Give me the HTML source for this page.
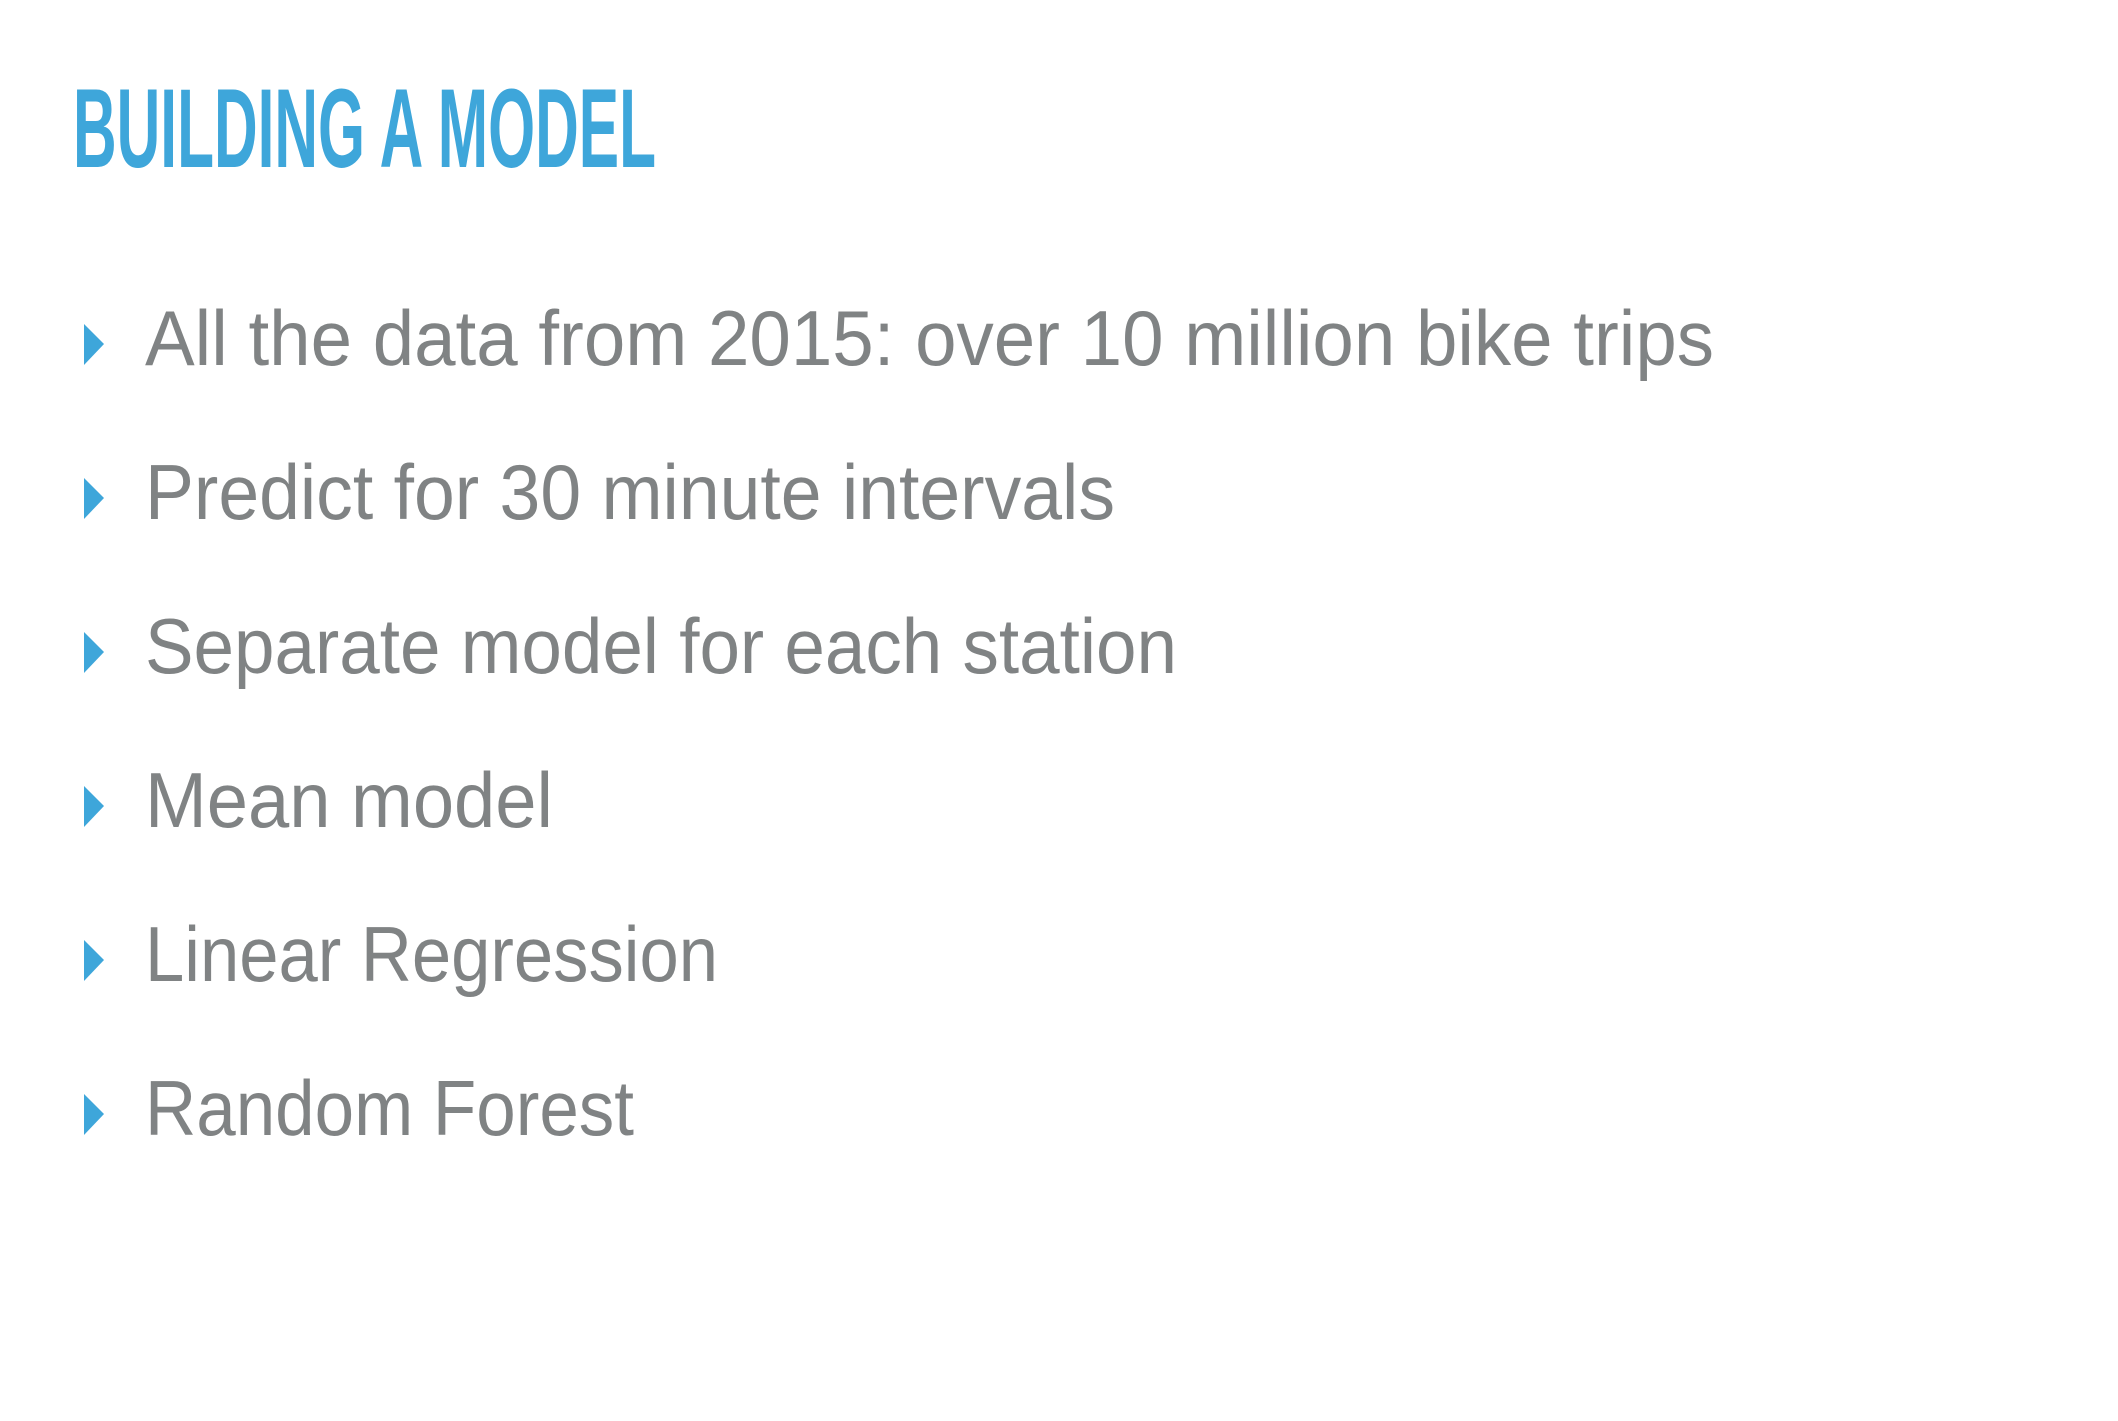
<!DOCTYPE html>
<html>
<head>
<meta charset="utf-8">
<style>
  html, body { margin:0; padding:0; background:#ffffff; }
  svg { display:block; }
</style>
</head>
<body>
<svg width="2118" height="1421" viewBox="0 0 2118 1421" xmlns="http://www.w3.org/2000/svg">
  <rect width="2118" height="1421" fill="#ffffff"/>
  <text x="73" y="167" font-family="Liberation Sans, sans-serif" font-weight="bold" font-size="112" fill="#3ea6da" textLength="583" lengthAdjust="spacingAndGlyphs">BUILDING A MODEL</text>

  <g font-family="Liberation Sans, sans-serif" font-size="78" fill="#808384">
    <g>
      <polygon points="84,324 104,344 84,365" fill="#3ea6da"/>
      <text x="145" y="365" textLength="1569" lengthAdjust="spacingAndGlyphs">All the data from 2015: over 10 million bike trips</text>
    </g>
    <g>
      <polygon points="84,478 104,498 84,519" fill="#3ea6da"/>
      <text x="145" y="519" textLength="970" lengthAdjust="spacingAndGlyphs">Predict for 30 minute intervals</text>
    </g>
    <g>
      <polygon points="84,632 104,652 84,673" fill="#3ea6da"/>
      <text x="145" y="673" textLength="1032" lengthAdjust="spacingAndGlyphs">Separate model for each station</text>
    </g>
    <g>
      <polygon points="84,786 104,806 84,827" fill="#3ea6da"/>
      <text x="145" y="827" textLength="408" lengthAdjust="spacingAndGlyphs">Mean model</text>
    </g>
    <g>
      <polygon points="84,940 104,960 84,981" fill="#3ea6da"/>
      <text x="145" y="981" textLength="573" lengthAdjust="spacingAndGlyphs">Linear Regression</text>
    </g>
    <g>
      <polygon points="84,1094 104,1114 84,1135" fill="#3ea6da"/>
      <text x="145" y="1135" textLength="489" lengthAdjust="spacingAndGlyphs">Random Forest</text>
    </g>
  </g>
</svg>
</body>
</html>
